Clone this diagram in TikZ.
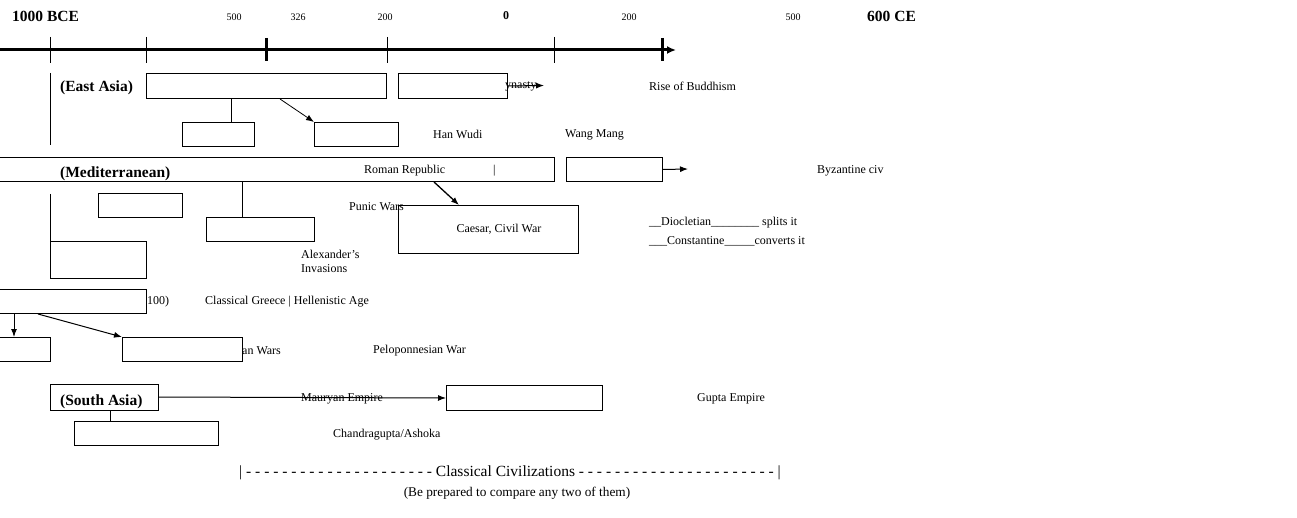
\documentclass[tikz,border=0pt]{standalone}
\usepackage{fontspec}
\setmainfont{Liberation Serif}
\usetikzlibrary{arrows.meta}
\begin{document}
\begin{tikzpicture}[x=1pt,y=-1pt,
 box/.style={draw,line width=1pt,inner sep=0pt,anchor=north west},
 lbl/.style={anchor=west,inner sep=0pt,yshift=-1.5pt,font=\fontsize{12}{14}\selectfont},
 big/.style={anchor=west,inner sep=0pt,font=\fontsize{15.5}{18}\selectfont\bfseries},
 ticklbl/.style={anchor=center,inner sep=0pt,font=\fontsize{10}{12}\selectfont},
 ln/.style={line width=1pt},
 arr/.style={line width=1pt,-{Latex[length=8pt,width=6pt]}}]
\useasboundingbox (0,0) rectangle (1297,518);
\begin{scope}
\clip (0,0) rectangle (1297,518);
% ---------- time axis ----------
\coordinate (axL) at (-5,50);
\coordinate (axR) at (676,50);
\draw[line width=3pt,-{Latex[length=9pt,width=8pt]}] (axL) -- (axR);
\foreach \x in {50,146,387,554} \draw[ln] (\x,37) -- (\x,63);
\foreach \x in {266,662} \draw[line width=3pt] (\x,38) -- (\x,61);
\node[big] (tBCE) at (12,16) {1000 BCE};
\node[ticklbl] (t500a) at (234,17) {500};
\node[ticklbl] (t326) at (298,17) {326};
\node[ticklbl] (t200a) at (385,17) {200};
\node[anchor=center,inner sep=0pt,font=\fontsize{12}{14}\selectfont\bfseries] (t0) at (506,16) {0};
\node[ticklbl] (t200b) at (629,17) {200};
\node[ticklbl] (t500b) at (793,17) {500};
\node[big] (tCE) at (867,16) {600 CE};
% ---------- East Asia ----------
\coordinate (eaV1) at (50,73);
\coordinate (eaV2) at (50,145);
\draw[ln] (eaV1) -- (eaV2);
\node[big] (eaLbl) at (60,88) {(East Asia)};
\node[box,minimum width=240,minimum height=25] (eaA) at (146,73) {};
\node[box,minimum width=109,minimum height=25] (eaB) at (398,73) {};
\node[lbl] (dyn) at (505,85) {ynasty};
\coordinate (dynEnd) at (544,85.5);
\draw[arr] (eaB.east) -- (dynEnd);
\node[lbl] (buddh) at (649,85) {Rise of Buddhism};
\node[box,minimum width=72,minimum height=24] (eaC) at (182,122) {};
\node[box,minimum width=84,minimum height=24] (eaD) at (314,122) {};
\draw[ln] (eaA.south -| 231,0) -- (eaC.north -| 231,0);
\draw[line width=0.8pt,-{Latex[length=8pt,width=6pt]}] (eaA.south -| 280,0) -- (eaD.north west);
\node[lbl] (hanwudi) at (433,133) {Han Wudi};
\node[lbl] (wangmang) at (565,133) {Wang Mang};
% ---------- Mediterranean ----------
\node[box,minimum width=558,minimum height=24] (med) at (-4,157) {};
\node[big] (medLbl) at (60,174) {(Mediterranean)};
\node[lbl] (romrep) at (364,169) {Roman Republic};
\node[lbl] (bar) at (493,169) {|};
\node[box,minimum width=96,minimum height=24] (medR) at (566,157) {};
\coordinate (byzEnd) at (688,169);
\draw[arr] (medR.east) -- (byzEnd);
\node[lbl] (byz) at (817,169) {Byzantine civ};
\node[box,minimum width=84,minimum height=24] (medS) at (98,193) {};
\node[box,minimum width=108,minimum height=24] (medAl) at (206,217) {};
\draw[ln] (med.south -| 242,0) -- (medAl.north -| 242,0);
\node[box,minimum width=180,minimum height=48] (caesar) at (398,205) {};
\node[anchor=center,inner sep=0pt,yshift=-1.5pt,font=\fontsize{12}{14}\selectfont] (caesarT) at (499,228) {Caesar, Civil War};
\node[lbl] (punic) at (349,205) {Punic Wars};
\draw[line width=1.3pt,-{Latex[length=8pt,width=6pt]}] (med.south -| 434,0) -- (caesar.north -| 459,0);
\node[lbl] (alex1) at (301,253) {Alexander’s};
\node[lbl] (alex2) at (301,267) {Invasions};
\node[box,minimum width=96,minimum height=37] (medG) at (50,241) {};
\coordinate (medV) at (50,194);
\draw[ln] (medV) -- (medG.north west);
\node[lbl] (diocl) at (649,221) {\_\_Diocletian\_\_\_\_\_\_\_\_ splits it};
\node[lbl] (const) at (649,240) {\_\_\_Constantine\_\_\_\_\_converts it};
% ---------- Greece ----------
\node[box,minimum width=150,minimum height=24] (gr) at (-4,289) {};
\node[lbl] (gr100) at (147,300) {100)};
\node[lbl] (grHell) at (205,300) {Classical Greece | Hellenistic Age};
\node[box,minimum width=54,minimum height=24] (grA) at (-4,337) {};
\node[box,minimum width=120,minimum height=24] (grB) at (122,337) {};
\draw[arr] (gr.south -| 14,0) -- (grA.north -| 14,0);
\draw[arr] (gr.south -| 38,0) -- (grB.north west);
\node[lbl] (persw) at (242,349) {an Wars};
\node[lbl] (pelop) at (373,349) {Peloponnesian War};
% ---------- South Asia ----------
\node[box,minimum width=108,minimum height=26] (sa) at (50,384) {};
\node[big] (saLbl) at (60,402) {(South Asia)};
\node[lbl] (maur) at (301,397) {Mauryan Empire};
\node[box,minimum width=156,minimum height=25] (gupta) at (446,385) {};
\draw[arr] (sa.east |- 0,397) -- (gupta.west);
\node[lbl] (guptaT) at (697,397) {Gupta Empire};
\node[box,minimum width=144,minimum height=24] (chand) at (74,421) {};
\draw[ln] (sa.south -| 110,0) -- (chand.north -| 110,0);
\node[lbl] (chandT) at (333,433) {Chandragupta/Ashoka};
% ---------- footer ----------
\node[anchor=center,inner sep=0pt,yshift=-1pt,font=\fontsize{15.5}{18}\selectfont] (classciv) at (510,472)
 {|\foreach \i in {1,...,21}{ -} Classical Civilizations\foreach \i in {1,...,22}{ -} |};
\node[anchor=center,inner sep=0pt,yshift=-1pt,font=\fontsize{13.3}{16}\selectfont] (prep) at (517,492) {(Be prepared to compare any two of them)};
\end{scope}
\end{tikzpicture}
\end{document}
